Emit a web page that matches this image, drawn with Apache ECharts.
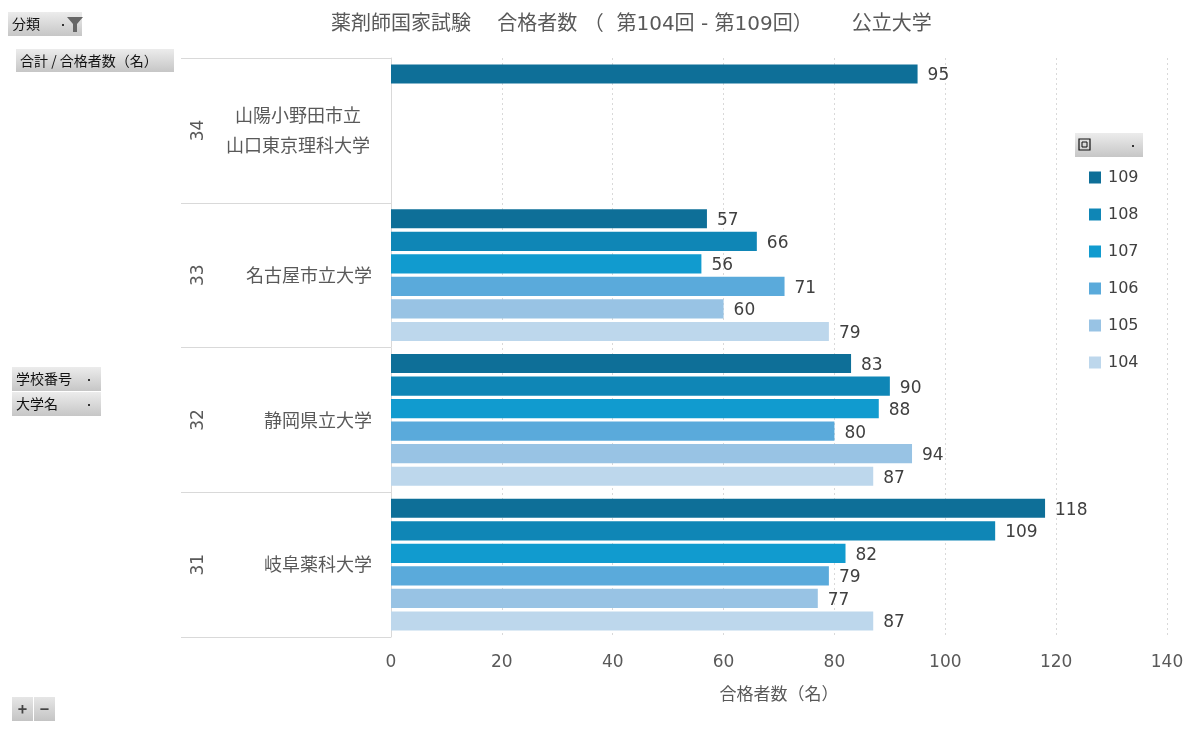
<!DOCTYPE html>
<html>
<head>
<meta charset="utf-8">
<title>薬剤師国家試験 合格者数 公立大学</title>
<script src="https://cdn.jsdelivr.net/npm/echarts@6/dist/echarts.min.js"></script>
<style>
    html, body { margin: 0; padding: 0; background: #ffffff; }
    #chartBox { width: 1200px; height: 733px; }
</style>
</head>
<body>
<div id="chartBox"></div>
<script>
/**
 * 合格者数（第104回 - 第109回） 公立大学
 */
var schoolNos = ['31', '32', '33', '34'];
var schoolNames = ['岐阜薬科大学', '静岡県立大学', '名古屋市立大学', '山陽小野田市立\n山口東京理科大学'];
var rounds = ['109', '108', '107', '106', '105', '104'];
var roundColors = ['#0e6f98', '#0f86b6', '#119bcf', '#5aaadb', '#98c3e4', '#bdd7ec'];
// 各回の合格者数（学校番号 31, 32, 33, 34 の順）
var passed109 = [118, 83, 57, 95];
var passed108 = [109, 90, 66, null];
var passed107 = [82, 88, 56, null];
var passed106 = [79, 80, 71, null];
var passed105 = [77, 94, 60, null];
var passed104 = [87, 87, 79, null];
var xTicks = { min: 0, max: 140, interval: 20 };

(function(){
    var _font = '"DejaVu Sans", "Noto Sans CJK JP", sans-serif';
    var _cjk = '"Noto Sans CJK JP", sans-serif';
    var _valueList = [passed109, passed108, passed107, passed106, passed105, passed104];

    // ピボットボタン風の灰色ボックス
    function button(x, y, w, h, label, arrowX){
        var _children = [{
            type: 'rect',
            shape: { x: 0, y: 0, width: w, height: h },
            style: {
                fill: new echarts.graphic.LinearGradient(0, 0, 0, 1, [
                    { offset: 0, color: '#ececec' },
                    { offset: 1, color: '#c6c6c6' }
                ])
            }
        }, {
            type: 'text',
            x: 4, y: h / 2,
            style: { text: label, fill: '#111111', font: '14px ' + _cjk, verticalAlign: 'middle' }
        }];
        if(arrowX){
            _children.push({
                type: 'rect',
                shape: { x: arrowX, y: h / 2, width: 2, height: 2 },
                style: { fill: '#333333' }
            });
        }
        return { type: 'group', x: x, y: y, children: _children };
    }

    function getParams(){
        var _funnel = button(8, 12, 74, 24, '分類', 54);
        _funnel.children.push({
            type: 'polygon',
            shape: { points: [[59, 5], [75, 5], [69, 12], [69, 20], [65, 20], [65, 12]] },
            style: { fill: '#666666' }
        });

        var _pm = {
            type: 'group', x: 12, y: 697,
            children: [0, 1].map(function(i){
                return {
                    type: 'rect',
                    shape: { x: i * 22, y: 0, width: 21, height: 24 },
                    style: {
                        fill: new echarts.graphic.LinearGradient(0, 0, 0, 1, [
                            { offset: 0, color: '#e6e6e6' },
                            { offset: 1, color: '#c4c4c4' }
                        ])
                    }
                };
            }).concat([{
                type: 'text', x: 10.5, y: 12,
                style: { text: '+', fill: '#444444', font: 'bold 16px ' + _cjk, align: 'center', verticalAlign: 'middle' }
            }, {
                type: 'text', x: 32.5, y: 12,
                style: { text: '−', fill: '#444444', font: 'bold 16px ' + _cjk, align: 'center', verticalAlign: 'middle' }
            }])
        };

        var _roundBtn = button(1075, 133, 68, 24, '', 57);
        _roundBtn.children.push({
            type: 'rect',
            shape: { x: 4, y: 6, width: 11, height: 11 },
            style: { fill: 'none', stroke: '#111111', lineWidth: 1.2 }
        }, {
            type: 'rect',
            shape: { x: 7, y: 9, width: 5, height: 5 },
            style: { fill: 'none', stroke: '#111111', lineWidth: 1 }
        });

        return {
            backgroundColor: '#ffffff',
            textStyle: { fontFamily: _font },
            title: {
                text: '薬剤師国家試験　 合格者数 （  第104回 - 第109回） 　  公立大学',
                left: 326,
                top: 10,
                textStyle: { fontSize: 20, fontWeight: 'normal', color: '#595959', fontFamily: _font }
            },
            graphic: [
                _funnel,
                button(16, 49, 158, 23, '合計 / 合格者数（名）'),
                button(12, 367, 89, 24, '学校番号', 76),
                button(12, 392, 89, 24, '大学名', 76),
                _pm,
                _roundBtn
            ],
            legend: {
                orient: 'vertical',
                left: 1084,
                top: 164,
                icon: 'rect',
                itemWidth: 12,
                itemHeight: 12,
                itemGap: 20,
                data: rounds,
                textStyle: { fontSize: 16, lineHeight: 17, color: '#404040', fontFamily: _font, padding: [0, 0, 0, 2] }
            },
            grid: { left: 391, right: 33, top: 58, bottom: 96 },
            xAxis: {
                type: 'value',
                min: xTicks.min,
                max: xTicks.max,
                interval: xTicks.interval,
                name: '合格者数（名）',
                nameLocation: 'middle',
                nameGap: 48,
                nameTextStyle: { fontSize: 17, color: '#595959', fontFamily: _cjk },
                axisLine: { show: false },
                axisTick: { show: false },
                axisLabel: { fontSize: 17, color: '#595959', margin: 17 },
                splitLine: { lineStyle: { color: '#d9d9d9', type: [2, 3] } }
            },
            yAxis: [{
                type: 'category',
                data: schoolNames,
                axisLine: { show: true, lineStyle: { color: '#d9d9d9' } },
                axisTick: { show: true, interval: 0, length: 210, lineStyle: { color: '#d9d9d9' } },
                axisLabel: {
                    margin: 19,
                    fontSize: 18,
                    fontFamily: _cjk,
                    color: '#595959',
                    lineHeight: 30,
                    formatter: function(_name){
                        var _lines = _name.split('\n');
                        if(_lines.length == 1){
                            return _name;
                        }
                        return _lines.map(function(s){ return '{c|' + s + '}'; }).join('\n');
                    },
                    rich: {
                        c: { width: 148, align: 'center', fontSize: 18, fontFamily: _cjk, color: '#595959', lineHeight: 30 }
                    }
                }
            }, {
                type: 'category',
                data: schoolNos,
                position: 'left',
                offset: 178,
                axisLine: { show: false },
                axisTick: { show: false },
                axisLabel: { rotate: 90, fontSize: 17, color: '#595959', margin: 6 }
            }],
            series: rounds.map(function(_round, i){
                return {
                    name: _round,
                    type: 'bar',
                    yAxisIndex: 0,
                    data: _valueList[i],
                    barGap: '18%',
                    barCategoryGap: '9%',
                    itemStyle: { color: roundColors[i] },
                    label: {
                        show: true,
                        position: 'right',
                        distance: 10,
                        offset: [0, 2],
                        fontSize: 17,
                        color: '#404040'
                    }
                };
            })
        };
    }

    var _chart = echarts.init(document.getElementById('chartBox'));
    _chart.setOption(getParams());
})();
</script>
</body>
</html>
